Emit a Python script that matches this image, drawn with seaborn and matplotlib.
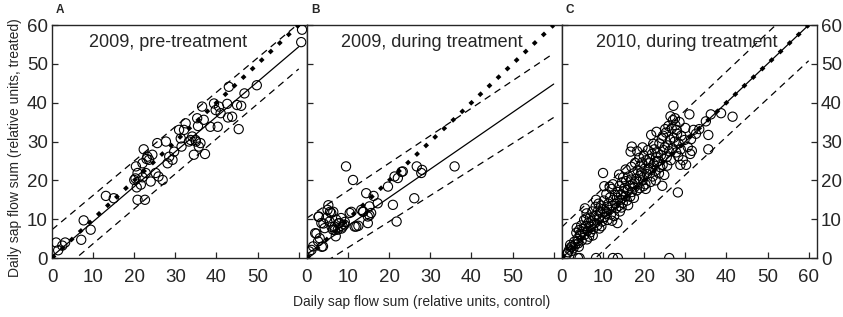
import numpy as np
import pandas as pd
import seaborn as sns
import matplotlib.pyplot as plt

# hand-read values (control, treated) for each panel
a_pts = [(1.0, 4.0), (1.5, 2.0), (2.5, 3.2), (3.2, 4.0), (7.1, 4.7), (7.7, 9.7), (9.4, 7.3),
         (13.1, 16.0), (15.0, 15.4), (20.0, 20.1), (20.4, 23.6), (20.8, 21.9), (20.6, 18.2),
         (20.8, 15.0), (21.6, 18.9), (22.0, 24.4), (22.3, 28.0), (22.6, 15.0), (22.8, 21.9),
         (23.2, 26.1), (23.6, 25.3), (24.0, 19.7), (24.4, 26.6), (25.2, 21.9), (25.6, 29.6),
         (25.9, 21.0), (26.9, 20.1), (27.7, 30.0), (28.1, 24.4), (28.5, 26.1), (29.3, 25.3),
         (29.7, 27.4), (30.9, 33.0), (31.5, 28.7), (31.3, 30.8), (32.1, 33.0), (32.5, 34.7),
         (33.3, 30.0), (33.7, 30.4), (34.1, 31.3), (34.5, 26.6), (34.9, 30.4), (35.3, 36.0),
         (35.7, 28.7), (36.1, 29.6), (36.5, 39.0), (36.9, 35.6), (37.2, 26.8), (38.5, 33.8),
         (39.4, 39.8), (39.8, 38.1), (40.3, 33.8), (40.6, 39.0), (41.0, 37.3), (42.6, 39.7),
         (43.0, 44.1), (42.8, 36.2), (43.8, 36.4), (45.0, 39.4), (45.4, 33.2), (46.0, 39.2),
         (46.8, 42.4), (49.8, 44.5), (60.6, 55.6), (60.8, 58.8), (20.3, 20.5), (22.0, 20.8),
         (23.0, 25.5), (35.0, 30.0), (35.5, 34.0)]

b_pts = [(0.6, 1.7), (1.5, 3.0), (2.0, 6.4), (2.7, 4.3), (3.1, 5.1), (2.9, 10.7), (3.5, 9.0),
         (3.9, 3.0), (4.3, 7.7), (4.7, 10.3), (5.0, 12.4), (5.5, 9.4), (5.9, 11.6), (6.3, 7.3),
         (6.7, 8.1), (7.0, 5.6), (7.1, 9.9), (7.5, 7.3), (7.9, 9.0), (8.3, 10.3), (8.7, 8.1),
         (9.1, 8.6), (9.5, 23.6), (10.4, 11.6), (11.2, 20.1), (11.6, 8.1), (12.0, 8.1),
         (13.2, 12.4), (13.6, 12.0), (14.4, 16.7), (14.8, 9.0), (14.8, 10.7), (15.2, 13.3),
         (15.6, 11.6), (16.2, 16.0), (17.2, 14.1), (19.7, 18.4), (20.9, 13.7), (21.3, 21.0),
         (22.1, 20.6), (21.8, 9.4), (23.3, 22.3), (26.1, 15.4), (26.7, 23.6), (27.8, 21.9),
         (28.0, 22.7), (35.9, 23.6), (1.1, 2.1), (2.3, 6.3), (3.6, 2.9), (2.8, 10.6),
         (4.0, 8.9), (5.2, 13.6), (5.6, 11.9), (6.4, 11.9), (6.0, 8.0), (6.8, 7.2), (7.6, 8.9),
         (8.4, 7.6), (9.2, 9.3), (10.8, 11.9), (12.5, 8.3), (13.7, 11.9), (15.2, 11.0),
         (23.0, 22.2)]

c_pts = [(1.2, 1.0), (1.8, 2.2), (2.3, 1.8), (2.5, 3.0), (2.8, 2.5), (3.0, 4.2), (2.2, 2.8),
         (3.3, 3.5), (1.5, 1.5), (2.0, 3.4),
         (3.5, 6.5), (3.8, 5.0), (4.0, 3.8), (4.2, 7.2), (4.5, 5.8), (4.8, 4.5), (3.6, 7.8),
         (4.4, 6.2), (5.0, 6.8), (4.7, 8.4), (3.9, 4.4), (4.1, 2.9),
         (5.2, 7.5), (5.4, 9.8), (5.5, 6.0), (5.8, 8.2), (6.0, 11.5), (6.2, 7.0), (6.4, 9.0),
         (6.6, 5.5), (6.8, 10.4), (7.0, 8.0), (5.6, 12.8), (6.1, 4.8), (6.9, 6.6), (5.9, 10.2),
         (7.2, 9.5), (7.4, 12.0), (7.6, 7.5), (7.8, 10.8), (8.0, 9.0), (8.2, 13.2), (8.4, 11.0),
         (8.6, 8.4), (8.8, 12.2), (9.0, 10.0), (7.5, 5.8), (8.3, 15.0), (9.1, 7.6), (8.9, 14.0),
         (9.3, 11.8), (9.5, 13.5), (9.7, 9.4), (9.9, 12.6), (10.0, 21.9), (10.2, 14.8),
         (10.4, 10.6), (10.6, 12.0), (10.8, 16.5), (11.0, 13.2), (9.6, 8.2), (10.3, 18.5),
         (11.1, 9.8), (10.9, 11.4),
         (11.3, 14.0), (11.5, 12.4), (11.7, 15.6), (11.9, 11.2), (12.1, 17.8), (12.3, 13.5),
         (12.5, 15.0), (12.7, 10.8), (12.9, 16.2), (13.0, 14.0), (11.6, 18.4), (12.4, 19.0),
         (13.2, 12.8), (12.2, 9.6),
         (13.4, 15.5), (13.6, 17.0), (13.8, 13.4), (14.0, 18.5), (14.2, 15.0), (14.4, 16.4),
         (14.6, 19.5), (14.8, 14.2), (15.0, 17.2), (13.5, 9.0), (14.1, 12.0), (14.9, 20.8),
         (13.9, 21.5), (14.5, 13.0),
         (15.2, 18.0), (15.4, 16.0), (15.6, 19.8), (15.8, 14.8), (16.0, 17.5), (16.2, 21.0),
         (16.4, 18.6), (16.6, 15.8), (16.8, 20.2), (17.0, 17.0), (16.7, 27.4), (17.0, 28.7),
         (15.5, 22.8), (16.1, 13.6), (16.9, 23.5),
         (17.2, 19.0), (17.4, 21.8), (17.6, 18.2), (17.8, 24.5), (18.0, 20.4), (18.2, 17.4),
         (18.4, 22.6), (18.6, 19.6), (18.8, 25.8), (19.0, 21.2), (17.5, 15.5), (18.3, 27.5),
         (19.1, 23.8), (18.9, 18.0),
         (19.3, 22.0), (19.5, 24.6), (19.7, 20.2), (19.9, 26.4), (20.1, 23.0), (20.3, 19.0),
         (20.5, 25.2), (20.7, 21.6), (20.9, 27.8), (21.0, 22.8), (19.6, 28.5), (20.4, 17.8),
         (21.1, 24.4), (19.8, 18.5),
         (21.3, 25.5), (21.5, 23.0), (21.7, 31.7), (21.9, 26.8), (22.1, 21.0), (22.3, 24.2),
         (22.5, 28.0), (22.7, 22.5), (22.9, 26.0), (23.0, 32.5), (21.6, 19.6), (22.2, 29.4),
         (23.1, 24.8), (22.8, 20.0),
         (23.3, 27.0), (23.5, 25.0), (23.7, 29.5), (23.9, 23.4), (24.1, 26.5), (24.3, 30.8),
         (24.5, 24.0), (24.7, 27.8), (24.9, 21.4), (25.0, 28.5), (23.6, 21.8), (24.4, 18.6),
         (25.1, 33.2), (24.6, 31.5),
         (25.3, 32.3), (25.5, 26.0), (25.7, 29.0), (25.9, 34.0), (26.1, 27.5), (26.3, 30.5),
         (26.5, 25.2), (26.7, 33.4), (26.9, 28.2), (27.0, 35.5), (27.1, 39.2), (25.6, 23.8),
         (26.4, 36.5), (27.2, 31.0),
         (27.4, 30.0), (27.6, 34.2), (27.8, 27.2), (28.0, 32.0), (28.2, 16.9), (28.4, 29.5),
         (28.6, 35.0), (28.8, 24.0), (29.0, 31.5), (27.5, 36.0), (28.3, 26.2), (28.9, 28.0),
         (27.9, 33.0),
         (29.4, 25.2), (29.8, 30.4), (30.2, 24.0), (30.6, 28.6), (31.0, 37.0), (31.2, 26.8),
         (31.6, 27.6), (32.0, 33.0), (32.6, 32.0), (33.4, 33.2), (30.0, 33.5), (31.4, 30.6),
         (35.0, 35.2), (35.6, 31.7), (35.6, 28.0), (36.2, 37.0), (38.7, 37.3), (41.5, 36.4),
         (3.9, 0.0), (4.3, 0.0), (8.3, 0.0), (12.4, 0.0), (13.6, 0.0), (26.1, 0.0)]

panel_letters = ["A", "B", "C"]
panel_titles = ["2009, pre-treatment", "2009, during treatment", "2010, during treatment"]

# (intercept, slope) of regression line and prediction band edges
fit_lines = [(0.4, 0.9), (1.0, 0.73), (0.0, 1.0)]
upper_lines = [(7.3, 0.885), (10.3, 0.707), (8.0, 1.0)]
lower_lines = [(-5.3, 0.90), (-4.0, 0.67), (-8.0, 0.98)]
line_x = np.array([0, 60])

ticks = [0, 10, 20, 30, 40, 50, 60]

sns.set_style("ticks")
plt.rcParams['font.family'] = ['Liberation Sans', 'DejaVu Sans']

fig, axes = plt.subplots(1, 3, figsize=(8.43, 3.17), dpi=100, sharey=True)
fig.subplots_adjust(left=0.0617, right=0.969, top=0.921, bottom=0.186, wspace=0)

for i, ax in enumerate(axes):
    pts = [a_pts, b_pts, c_pts][i]
    df = pd.DataFrame(pts, columns=["control", "treated"])

    # 1:1 line, heavy dots
    ax.plot(line_x, line_x, color="black", lw=2.8, linestyle=(0, (1.1, 2.1)),
            dash_capstyle="butt", zorder=3)
    b0, b1 = fit_lines[i]
    ax.plot(line_x, b0 + b1 * line_x, color="black", lw=0.9, zorder=2)
    for b0, b1 in (upper_lines[i], lower_lines[i]):
        ax.plot(line_x, b0 + b1 * line_x, color="black", lw=0.9,
                linestyle=(0, (5.5, 4.0)), zorder=2)

    sns.scatterplot(data=df, x="control", y="treated", ax=ax, marker="o", s=44,
                    fc="none", ec="black", linewidth=0.8, zorder=4)

    ax.set_xlim(0, 62)
    ax.set_ylim(0, 60)
    ax.set_xticks(ticks)
    ax.set_yticks(ticks)
    labels = [str(t) for t in ticks]
    if i < 2:
        labels[-1] = ""
    ax.set_xticklabels(labels)
    ax.set_xlabel("")
    ax.set_ylabel("")
    ax.tick_params(axis="both", direction="in", length=4, width=0.9, labelsize=13.5)
    ax.tick_params(axis="x", pad=8)
    ax.tick_params(axis="y", pad=3)
    for sp in ax.spines.values():
        sp.set_visible(True)
        sp.set_linewidth(1.0)

    ax.text(0.488 if i else 0.455, 0.925, panel_titles[i], transform=ax.transAxes,
            ha="center", va="center", fontsize=13)
    ax.text(0.015, 1.065, panel_letters[i], transform=ax.transAxes,
            ha="left", va="center", fontsize=8.5, fontweight="bold")

axes[1].tick_params(axis="y", left=True, labelleft=False)
axes[2].tick_params(axis="y", left=True, right=True, labelleft=False, labelright=True)

fig.text(0.5, 0.047, "Daily sap flow sum (relative units, control)",
         ha="center", va="center", fontsize=10)
fig.text(0.018, 0.535, "Daily sap flow sum (relative units, treated)",
         ha="center", va="center", rotation=90, fontsize=10)

fig.savefig("out.png", dpi=100)
